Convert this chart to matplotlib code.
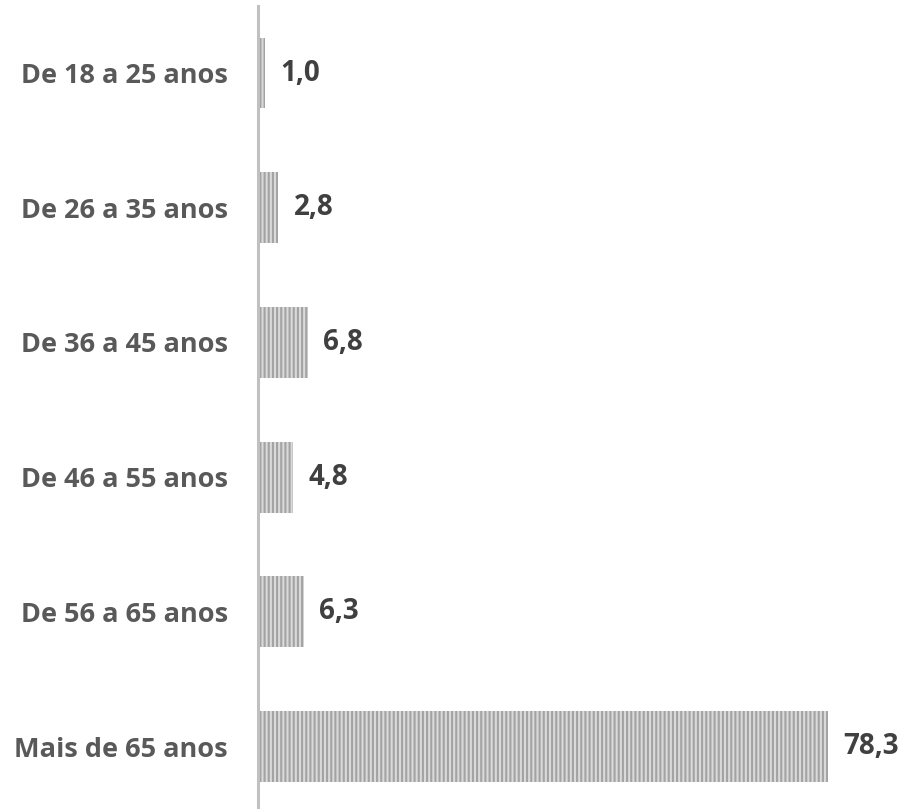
import matplotlib.pyplot as plt

categories = ["De 18 a 25 anos", "De 26 a 35 anos", "De 36 a 45 anos",
              "De 46 a 55 anos", "De 56 a 65 anos", "Mais de 65 anos"]
values = [1.0, 2.8, 6.8, 4.8, 6.3, 78.3]

plt.rcParams['font.family'] = ['Open Sans', 'DejaVu Sans']
plt.rcParams['hatch.linewidth'] = 1.5

fig = plt.figure(figsize=(9.08, 8.09), dpi=100)
# axes placed in pixels: y axis at x=258, 78.3 ends at x=828
left = 258 / 908
right = 828 / 908
top_px, bot_px = 5.65, 813.9
ax = fig.add_axes([left, (809 - bot_px) / 809, right - left, (bot_px - top_px) / 809])

pos = list(range(len(categories)))
ax.barh(pos, values, height=0.527, color='#dadada', edgecolor='#a3a3a3',
        hatch='||||', linewidth=0)
ax.set_xlim(0, 78.3)
ax.set_ylim(5.5, -0.5)

for p, v in zip(pos, values):
    ax.text(v + 2.1, p, f"{v:.1f}".replace('.', ','), va='center', ha='left',
            fontsize=20, fontweight='bold', color='#404040', clip_on=False)

ax.set_yticks(pos)
ax.set_yticklabels(categories, fontsize=19.5, fontweight='bold', color='#595959')
ax.tick_params(axis='y', length=0, pad=21.6)
ax.set_xticks([])
for s in ['top', 'right', 'bottom']:
    ax.spines[s].set_visible(False)
ax.spines['left'].set_color('#c0c0c0')
ax.spines['left'].set_linewidth(2.2)

fig.savefig('out.png', dpi=100)
